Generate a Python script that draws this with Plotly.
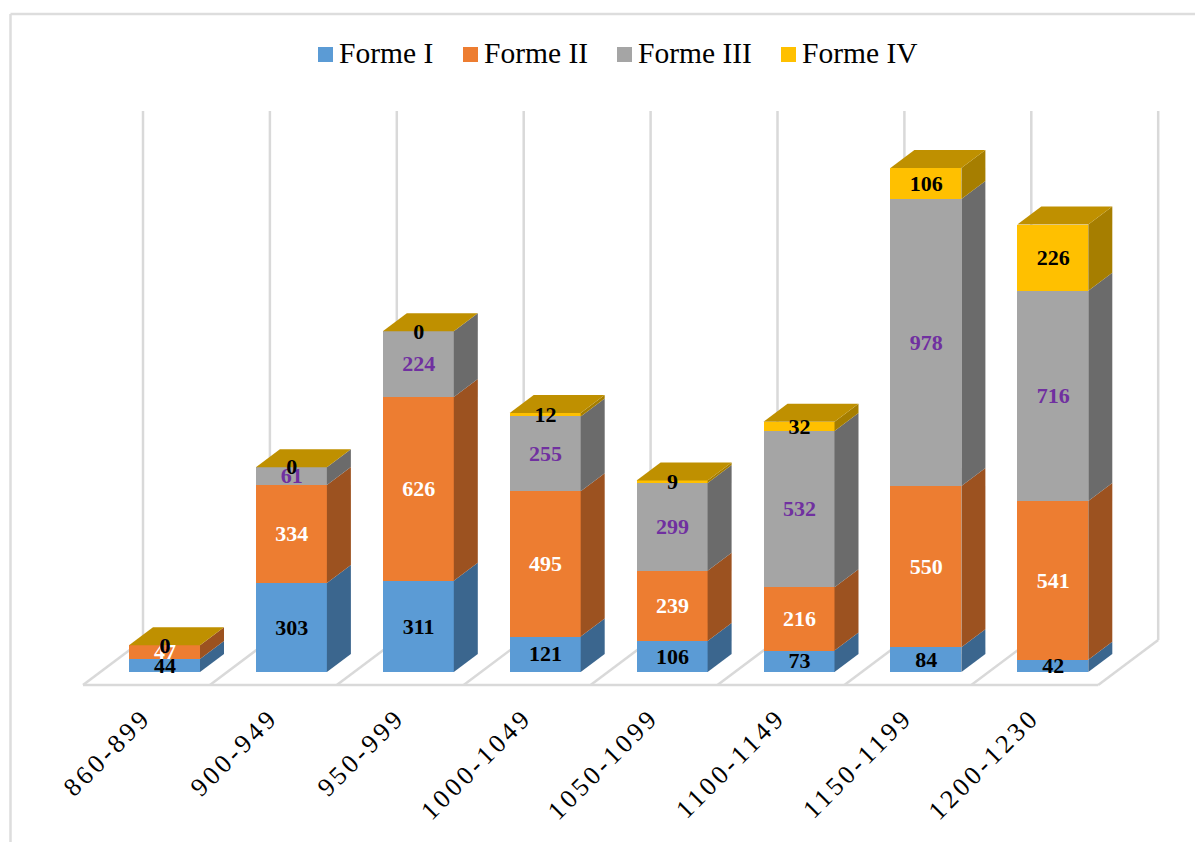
import plotly.graph_objects as go

categories = ["860-899", "900-949", "950-999", "1000-1049", "1050-1099", "1100-1149", "1150-1199", "1200-1230"]
forme_1 = [44, 303, 311, 121, 106, 73, 84, 42]
forme_2 = [47, 334, 626, 495, 239, 216, 550, 541]
forme_3 = [0, 61, 224, 255, 299, 532, 978, 716]
forme_4 = [0, 0, 0, 12, 9, 32, 106, 226]
series_names = ["Forme I", "Forme II", "Forme III", "Forme IV"]

series = [forme_1, forme_2, forme_3, forme_4]
front = ["#5B9BD5", "#ED7D31", "#A5A5A5", "#FFC000"]
side = ["#3B668E", "#9C5220", "#6B6B6B", "#A67E00"]
top_col = "#BF9000"
label_col = ["#000000", "#FFFFFF", "#7030A0", "#000000"]

W, H = 1203, 842
PAGE = 8  # the page's own margin around the figure
FW, FH = W - PAGE, H - PAGE
PX_PER_CAT = 126.9
X0_PX = 164.5
Y0_PX = 672.0
PX_PER_UNIT = 0.2934
AX_B = 690
to_x = lambda px: (px - X0_PX) / PX_PER_CAT
to_y = lambda py: (Y0_PX - py) / PX_PER_UNIT
paper_x = lambda px: (px - PAGE) / FW
paper_y = lambda py: (AX_B - py) / (AX_B - PAGE)
BAR_W = 71 / PX_PER_CAT
DX = 24 / PX_PER_CAT
DY = 18 / PX_PER_UNIT
LABEL_DOWN = 1.7 / PX_PER_UNIT
LABEL_RIGHT = 0.4 / PX_PER_CAT

fig = go.Figure()
cum = [0] * len(categories)
label_x, label_y, label_t, label_c = [], [], [], []
polys = []
for s, vals in enumerate(series):
    fig.add_trace(go.Bar(x=list(range(len(categories))), y=vals, name=series_names[s], base=cum[:],
                         width=BAR_W, marker=dict(color=front[s], line=dict(width=0)), hoverinfo="skip",
                         showlegend=False))
    for i, v in enumerate(vals):
        xr = i + BAR_W / 2
        polys.append(([xr, xr + DX, xr + DX, xr, xr], [cum[i], cum[i] + DY, cum[i] + v + DY, cum[i] + v, cum[i]], side[s]))
        label_x.append(i + LABEL_RIGHT)
        label_y.append(cum[i] + v / 2 - LABEL_DOWN)
        label_t.append(str(v))
        label_c.append(label_col[s])
        cum[i] += v

for xs, ys, c in polys:
    fig.add_trace(go.Scatter(x=xs, y=ys, mode="lines", fill="toself", fillcolor=c, line=dict(width=0),
                             showlegend=False, hoverinfo="skip"))
for i, t in enumerate(cum):
    xl, xr = i - BAR_W / 2, i + BAR_W / 2
    fig.add_trace(go.Scatter(x=[xl, xr, xr + DX, xl + DX, xl], y=[t, t, t + DY, t + DY, t], mode="lines",
                             fill="toself", fillcolor=top_col, line=dict(width=0), showlegend=False, hoverinfo="skip"))

fig.add_trace(go.Scatter(x=label_x, y=label_y, text=label_t, mode="text", textposition="middle center",
                         textfont=dict(family="Liberation Serif", size=22, color=label_c, weight="bold"),
                         showlegend=False, hoverinfo="skip"))

GRID = "#D9D9D9"
shapes = []
n = len(categories)
for k in range(n + 1):
    fx = to_x(83 + k * PX_PER_CAT)
    bx = to_x(143 + k * PX_PER_CAT)
    fy, by = to_y(685), to_y(640)
    shapes.append(dict(type="line", x0=fx, x1=bx, y0=fy, y1=by, layer="below", line=dict(color=GRID, width=2.5)))
    shapes.append(dict(type="line", x0=bx, x1=bx, y0=by, y1=to_y(111), layer="below", line=dict(color=GRID, width=2.5)))
shapes.append(dict(type="line", x0=to_x(83), x1=to_x(83 + n * PX_PER_CAT), y0=to_y(685), y1=to_y(685), layer="below",
                   line=dict(color=GRID, width=2.5)))
# outer frame
shapes.append(dict(type="line", xref="paper", yref="paper", x0=paper_x(10.5), x1=paper_x(10.5), y0=paper_y(H), y1=paper_y(14),
                   line=dict(color="#DDDDDD", width=2.5), layer="below"))
shapes.append(dict(type="line", xref="paper", yref="paper", x0=paper_x(10.5), x1=paper_x(W), y0=paper_y(14), y1=paper_y(14),
                   line=dict(color="#DDDDDD", width=2.5), layer="below"))

# legend: swatch + real text
legend_swatch_px = [318, 463, 617, 781]
annotations = []
for s, name in enumerate(series_names):
    sx = legend_swatch_px[s]
    shapes.append(dict(type="rect", xref="paper", yref="paper", x0=paper_x(sx), x1=paper_x(sx + 15),
                       y0=paper_y(62), y1=paper_y(47), fillcolor=front[s], line=dict(width=0)))
    annotations.append(dict(xref="paper", yref="paper", x=paper_x(sx + 21), y=paper_y(53), text=name, showarrow=False,
                            xanchor="left", yanchor="middle", xshift=0,
                            font=dict(family="Liberation Serif", size=29.5, color="#000000"), borderpad=0, borderwidth=0))

fig.update_layout(
    width=FW, height=FH, autosize=False, barmode="overlay", bargap=0,
    paper_bgcolor="white", plot_bgcolor="rgba(0,0,0,0)",
    margin=dict(l=0, r=0, t=0, b=H - AX_B, pad=0),
    shapes=shapes, annotations=annotations, showlegend=False,
    xaxis=dict(range=[to_x(PAGE), to_x(W)], showgrid=False, zeroline=False, showline=False, ticks="",
               tickmode="array", tickvals=[to_x(X0_PX + i * PX_PER_CAT - 21) for i in range(n)], ticktext=categories,
               tickangle=-45, tickfont=dict(family="Liberation Serif", size=26, color="#000000"), ticklabelstandoff=6),
    yaxis=dict(range=[to_y(AX_B), to_y(PAGE)], showgrid=False, zeroline=False, showline=False, showticklabels=False, ticks=""),
)
spacing = "var s=document.createElement('style');s.textContent='.xtick text{letter-spacing:3.5px}';document.head.appendChild(s);"
fig.write_html("out.html", post_script=spacing)
